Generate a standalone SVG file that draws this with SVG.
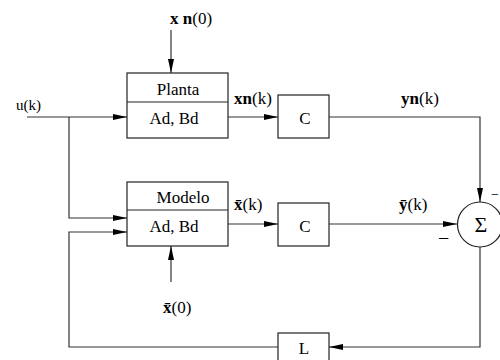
<svg xmlns="http://www.w3.org/2000/svg" width="500" height="360" viewBox="0 0 500 360">
<defs>
<marker id="ah" viewBox="0 0 14 6" refX="14" refY="3" markerWidth="14" markerHeight="6" markerUnits="userSpaceOnUse" orient="auto">
<path d="M0,0 L14,3 L0,6 Z" fill="#000"/>
</marker>
</defs>
<style>
.box{fill:#fff;stroke:#222;stroke-width:1.2}
.ln{fill:none;stroke:#333;stroke-width:1.2}
.t{font-family:"Liberation Serif","Times New Roman",serif;font-size:17px;fill:#000}
.c{text-anchor:middle}
.b{font-weight:bold}
</style>
<rect width="500" height="360" fill="#fff"/>
<g id="connectors">
<line class="ln" x1="27" y1="117" x2="127" y2="117" marker-end="url(#ah)"/>
<polyline class="ln" points="69,117 69,218 127,218" marker-end="url(#ah)"/>
<polyline class="ln" points="278,347 69,347 69,232 127,232" marker-end="url(#ah)"/>
<line class="ln" x1="171" y1="30" x2="171" y2="73" marker-end="url(#ah)"/>
<line class="ln" x1="171" y1="282" x2="171" y2="246" marker-end="url(#ah)"/>
<line class="ln" x1="228" y1="117" x2="278" y2="117" marker-end="url(#ah)"/>
<line class="ln" x1="228" y1="224" x2="278" y2="224" marker-end="url(#ah)"/>
<polyline class="ln" points="329,117 480,117 480,202" marker-end="url(#ah)"/>
<line class="ln" x1="329" y1="224" x2="457" y2="224" marker-end="url(#ah)"/>
<polyline class="ln" points="480,247 480,347 329,347" marker-end="url(#ah)"/>
</g>
<g id="planta">
<rect class="box" x="127" y="73" width="101" height="65"/>
<line class="box" x1="127" y1="102" x2="228" y2="102"/>
<text class="t c" x="178" y="95">Planta</text>
<text class="t c" x="174" y="124">Ad, Bd</text>
</g>
<g id="modelo">
<rect class="box" x="127" y="182" width="101" height="64"/>
<line class="box" x1="127" y1="210" x2="228" y2="210"/>
<text class="t c" x="183" y="203">Modelo</text>
<text class="t c" x="174" y="232">Ad, Bd</text>
</g>
<g id="c1">
<rect class="box" x="278" y="95" width="51" height="43"/>
<text class="t c" x="305" y="124">C</text>
</g>
<g id="c2">
<rect class="box" x="278" y="203" width="51" height="43"/>
<text class="t c" x="305" y="232">C</text>
</g>
<g id="L">
<rect class="box" x="278" y="333" width="51" height="30"/>
<text class="t c" x="304" y="354">L</text>
</g>
<g id="sum">
<circle class="box" cx="480" cy="224.5" r="22.5"/>
<text class="t c" x="481" y="232" style="font-size:22px">Σ</text>
<text class="t" x="438" y="245" style="font-size:20px">−</text>
<text class="t" x="491" y="199" style="font-size:14px">−</text>
</g>
<g id="labels">
<text class="t" x="16" y="110" style="font-size:15px">u(k)</text>
<text class="t" x="170" y="24"><tspan class="b">x</tspan> <tspan class="b">n</tspan>(0)</text>
<text class="t" x="234" y="104"><tspan class="b">xn</tspan>(k)</text>
<text class="t" x="401" y="104"><tspan class="b">yn</tspan>(k)</text>
<text class="t" x="234" y="210"><tspan class="b">x̄</tspan>(k)</text>
<text class="t" x="399" y="210"><tspan class="b">ȳ</tspan>(k)</text>
<text class="t" x="163" y="313"><tspan class="b">x̄</tspan>(0)</text>
</g>
</svg>
